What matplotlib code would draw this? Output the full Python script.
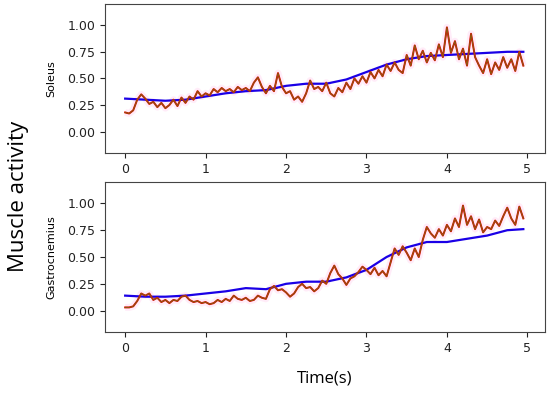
import numpy as np
import matplotlib.pyplot as plt

# raw EMG envelopes, sampled every 0.05 s
t_raw = np.arange(100) * 0.05
soleus = [0.18, 0.17, 0.20, 0.30, 0.35, 0.31, 0.26, 0.28, 0.23, 0.27,
          0.22, 0.25, 0.30, 0.24, 0.32, 0.27, 0.33, 0.30, 0.38, 0.33,
          0.36, 0.34, 0.40, 0.37, 0.41, 0.38, 0.40, 0.37, 0.42, 0.39,
          0.41, 0.38, 0.46, 0.51, 0.42, 0.36, 0.43, 0.38, 0.55, 0.42,
          0.36, 0.38, 0.30, 0.33, 0.28, 0.36, 0.48, 0.40, 0.42, 0.38,
          0.46, 0.36, 0.33, 0.41, 0.37, 0.46, 0.40, 0.50, 0.45, 0.52,
          0.46, 0.56, 0.50, 0.58, 0.52, 0.63, 0.57, 0.65, 0.58, 0.55,
          0.72, 0.62, 0.81, 0.68, 0.76, 0.65, 0.74, 0.67, 0.82, 0.70,
          0.98, 0.74, 0.85, 0.68, 0.78, 0.62, 0.92, 0.70, 0.62, 0.55,
          0.68, 0.54, 0.65, 0.58, 0.70, 0.60, 0.68, 0.57, 0.75, 0.62]
gastro = [0.03, 0.03, 0.04, 0.09, 0.16, 0.14, 0.16, 0.10, 0.12, 0.08,
          0.10, 0.07, 0.10, 0.09, 0.13, 0.14, 0.10, 0.08, 0.09, 0.07,
          0.08, 0.06, 0.07, 0.10, 0.08, 0.11, 0.09, 0.14, 0.11, 0.10,
          0.12, 0.09, 0.10, 0.14, 0.12, 0.11, 0.20, 0.23, 0.19, 0.20,
          0.17, 0.13, 0.16, 0.22, 0.25, 0.21, 0.22, 0.18, 0.21, 0.28,
          0.25, 0.35, 0.42, 0.34, 0.30, 0.24, 0.30, 0.32, 0.36, 0.41,
          0.38, 0.34, 0.40, 0.33, 0.37, 0.32, 0.45, 0.58, 0.52, 0.60,
          0.54, 0.47, 0.58, 0.50, 0.66, 0.78, 0.72, 0.68, 0.76, 0.70,
          0.80, 0.74, 0.86, 0.78, 0.98, 0.80, 0.88, 0.76, 0.85, 0.73,
          0.78, 0.76, 0.84, 0.79, 0.88, 0.96, 0.86, 0.80, 0.97, 0.86]

# smooth model output
t_fit = [0.0, 0.25, 0.5, 0.75, 1.0, 1.25, 1.5, 1.75, 2.0, 2.25, 2.5,
         2.75, 3.0, 3.25, 3.5, 3.75, 4.0, 4.25, 4.5, 4.75, 4.95]
soleus_fit = [0.31, 0.30, 0.29, 0.30, 0.33, 0.36, 0.38, 0.39, 0.43, 0.45, 0.45,
              0.49, 0.56, 0.63, 0.68, 0.71, 0.72, 0.73, 0.74, 0.75, 0.75]
gastro_fit = [0.14, 0.13, 0.13, 0.14, 0.16, 0.18, 0.21, 0.20, 0.25, 0.27, 0.27,
              0.31, 0.38, 0.50, 0.59, 0.64, 0.64, 0.67, 0.70, 0.75, 0.76]

fig = plt.figure(figsize=(5.5, 3.93), dpi=100)
ax1 = fig.add_axes([0.191, 0.611, 0.8, 0.379])
ax2 = fig.add_axes([0.191, 0.155, 0.8, 0.382])

for ax, raw, fit, name in [(ax1, soleus, soleus_fit, 'Soleus'),
                           (ax2, gastro, gastro_fit, 'Gastrocnemius')]:
    ax.plot(t_raw, raw, color='#ff66cc', lw=5, alpha=0.12, solid_capstyle='butt')
    ax.plot(t_fit, fit, color='#1a00e6', lw=1.6)
    ax.plot(t_raw, raw, color='#e60000', lw=1.4)
    ax.plot(t_raw, raw, color='#8b5a10', lw=0.8)
    ax.set_xlim(-0.25, 5.22)
    ax.set_ylim(-0.2, 1.2)
    ax.set_yticks([0.0, 0.25, 0.5, 0.75, 1.0])
    ax.set_yticklabels(['0.00', '0.25', '0.50', '0.75', '1.00'])
    ax.set_xticks([0, 1, 2, 3, 4, 5])
    ax.tick_params(labelsize=9, colors='#222222')
    for s in ax.spines.values():
        s.set_color('#444444')
    ax.set_ylabel(name, fontsize=8, labelpad=8)

fig.text(0.033, 0.5, 'Muscle activity', rotation=90, va='center', ha='center',
         fontsize=16, family='Open Sans')
fig.text(0.59, 0.038, 'Time(s)', ha='center', va='center',
         fontsize=12, family='Open Sans')

fig.savefig('out.png', dpi=100)
